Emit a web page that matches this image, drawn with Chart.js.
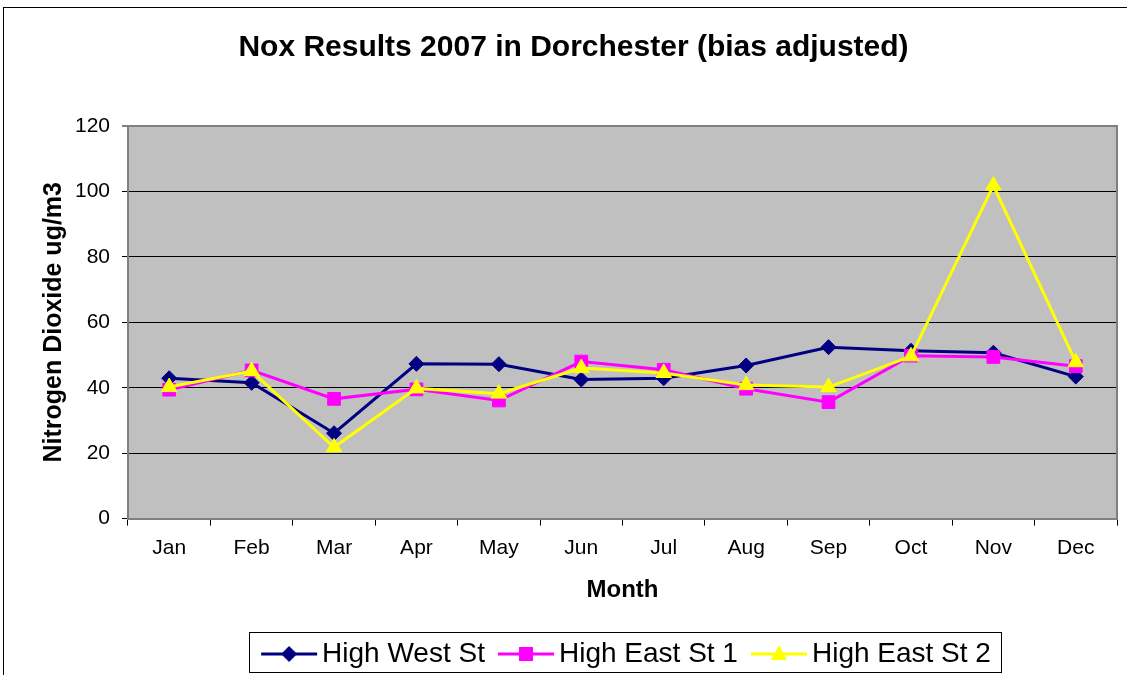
<!DOCTYPE html>
<html>
<head>
<meta charset="utf-8">
<script src="https://cdn.jsdelivr.net/npm/chart.js@4.4.0/dist/chart.umd.min.js"></script>
<style>
  html, body { margin: 0; padding: 0; background: #fff; }
  canvas { display: block; }
</style>
</head>
<body>
<canvas id="nox" width="1127" height="675"></canvas>
<script>
// NOx monthly results, Dorchester 2007 (bias adjusted)
const months = ['Jan', 'Feb', 'Mar', 'Apr', 'May', 'Jun', 'Jul', 'Aug', 'Sep', 'Oct', 'Nov', 'Dec'];
const highWest = [42.9, 41.5, 26.1, 47.3, 47.2, 42.5, 42.9, 46.8, 52.4, 51.3, 50.7, 43.4];
const highEast1 = [39.4, 45.3, 36.6, 39.5, 36.1, 48.0, 45.5, 39.7, 35.6, 49.8, 49.4, 46.6];
const highEast2 = [40.2, 45.1, 21.8, 39.8, 38.2, 46.0, 44.5, 40.8, 40.2, 49.6, 101.8, 47.8];
const yTicks = [0, 20, 40, 60, 80, 100, 120];

const FONT = "'Liberation Sans', Arial, sans-serif";

// line+marker swatch for the legend; wider than its legend box so the
// line sits close to its text like the original
function swatch(color, style) {
  const c = document.createElement('canvas');
  c.width = 80; c.height = 22;
  const g = c.getContext('2d');
  g.strokeStyle = color;
  g.lineWidth = 3;
  g.beginPath(); g.moveTo(20, 11); g.lineTo(76, 11); g.stroke();
  g.fillStyle = color;
  g.beginPath();
  const m = 48;
  if (style === 'diamond') {
    g.moveTo(m, 3); g.lineTo(m + 8, 11); g.lineTo(m, 19); g.lineTo(m - 8, 11);
  } else if (style === 'square') {
    g.rect(m - 7, 4, 14, 14);
  } else {
    g.moveTo(m, 2); g.lineTo(m + 8, 17); g.lineTo(m - 8, 17);
  }
  g.closePath(); g.fill();
  return c;
}

const frame = {
  id: 'frame',
  beforeDraw(chart) {
    const { ctx, chartArea: a } = chart;
    // title centred on the outer frame, legend centred on the plot
    if (chart.titleBlock) { chart.titleBlock.left = 30; }
    if (chart.legend && !chart.legend._moved) {
      chart.legend.left = a.left;
      chart.legend.right = a.right;
      chart.legend.top += 3;
      chart.legend.bottom += 3;
      chart.legend._moved = true;
      chart.legend.adjustHitBoxes();
    }
    ctx.save();
    ctx.fillStyle = '#fff';
    ctx.fillRect(0, 0, chart.width, chart.height);
    ctx.strokeStyle = '#000';
    ctx.lineWidth = 1;
    ctx.strokeRect(3.5, 7.5, 1300, 900);
    ctx.fillStyle = '#c0c0c0';
    ctx.fillRect(a.left, a.top, a.right - a.left, a.bottom - a.top);
    ctx.restore();
  },
  afterDatasetsDraw(chart) {
    const { ctx, chartArea: a } = chart;
    ctx.save();
    ctx.strokeStyle = '#808080';
    ctx.lineWidth = 2;
    ctx.beginPath();
    ctx.moveTo(a.left, a.top); ctx.lineTo(a.right, a.top); ctx.lineTo(a.right, a.bottom);
    ctx.stroke();
    ctx.restore();
  },
  afterDraw(chart) {
    const lg = chart.legend;
    if (!lg || !lg.legendHitBoxes.length) return;
    const boxes = lg.legendHitBoxes;
    const x0 = boxes[0].left - 5;
    const last = boxes[boxes.length - 1];
    const x1 = last.left + last.width + 10;
    const { ctx } = chart;
    ctx.save();
    ctx.strokeStyle = '#000';
    ctx.lineWidth = 1;
    ctx.strokeRect(Math.round(x0) + 0.5, 632.5, Math.round(x1 - x0), 40);
    ctx.restore();
  }
};

const markers = { diamond: 'rectRot', square: 'rect', triangle: 'triangle' };

function series(label, data, color, style, radius, order) {
  return {
    label, data, order,
    borderColor: color,
    backgroundColor: color,
    borderWidth: 3,
    pointStyle: markers[style],
    pointRadius: radius,
    pointHoverRadius: radius,
    pointBorderWidth: 1,
    tension: 0,
    swatch: swatch(color, style)
  };
}

new Chart(document.getElementById('nox'), {
  type: 'line',
  data: {
    labels: months,
    datasets: [
      series('High West St', highWest, '#000080', 'diamond', 7.5, 3),
      series('High East St 1', highEast1, '#ff00ff', 'square', 9, 2),
      series('High East St 2', highEast2, '#ffff00', 'triangle', 9, 1)
    ]
  },
  options: {
    responsive: false,
    animation: false,
    devicePixelRatio: 1,
    layout: { padding: { left: 0, right: 10, top: 0, bottom: 0 } },
    plugins: {
      title: {
        display: true,
        text: 'Nox Results 2007 in Dorchester (bias adjusted)',
        color: '#000',
        font: { family: FONT, size: 30, weight: 'bold' },
        padding: { top: 30, bottom: 60 }
      },
      legend: {
        position: 'bottom',
        labels: {
          usePointStyle: true,
          pointStyleWidth: 54,
          padding: 6,
          color: '#000',
          font: { family: FONT, size: 28 },
          generateLabels(chart) {
            return chart.data.datasets.map((ds, i) => ({
              text: ds.label,
              pointStyle: ds.swatch,
              fillStyle: ds.borderColor,
              strokeStyle: ds.borderColor,
              lineWidth: 0,
              hidden: false,
              datasetIndex: i
            }));
          }
        }
      },
      tooltip: { enabled: false }
    },
    scales: {
      x: {
        offset: true,
        grid: { display: true, drawOnChartArea: false, offset: true, tickLength: 7, color: '#000' },
        border: { color: '#808080', width: 2 },
        ticks: { color: '#000', padding: 10, font: { family: FONT, size: 21 } },
        title: {
          display: true, text: 'Month', color: '#000',
          font: { family: FONT, size: 24, weight: 'bold' },
          padding: { top: 0, bottom: 26 }
        },
        afterFit(s) { s.height = 112.4; }
      },
      y: {
        min: 0, max: 120,
        afterBuildTicks(s) { s.ticks = yTicks.map(v => ({ value: v })); },
        grid: {
          color: ctx => ctx.tick && ctx.tick.value === 120 ? '#808080' : '#000',
          lineWidth: ctx => ctx.tick && ctx.tick.value === 120 ? 2 : 1,
          tickLength: 6
        },
        border: { color: '#808080', width: 2 },
        ticks: { color: '#000', padding: 12, font: { family: FONT, size: 21 } },
        title: {
          display: true, text: 'Nitrogen Dioxide ug/m3', color: '#000',
          font: { family: FONT, size: 25, weight: 'bold' },
          padding: { top: 39.5, bottom: 0 }
        },
        afterFit(s) { s.width = 128; }
      }
    }
  },
  plugins: [frame]
});
</script>
</body>
</html>
